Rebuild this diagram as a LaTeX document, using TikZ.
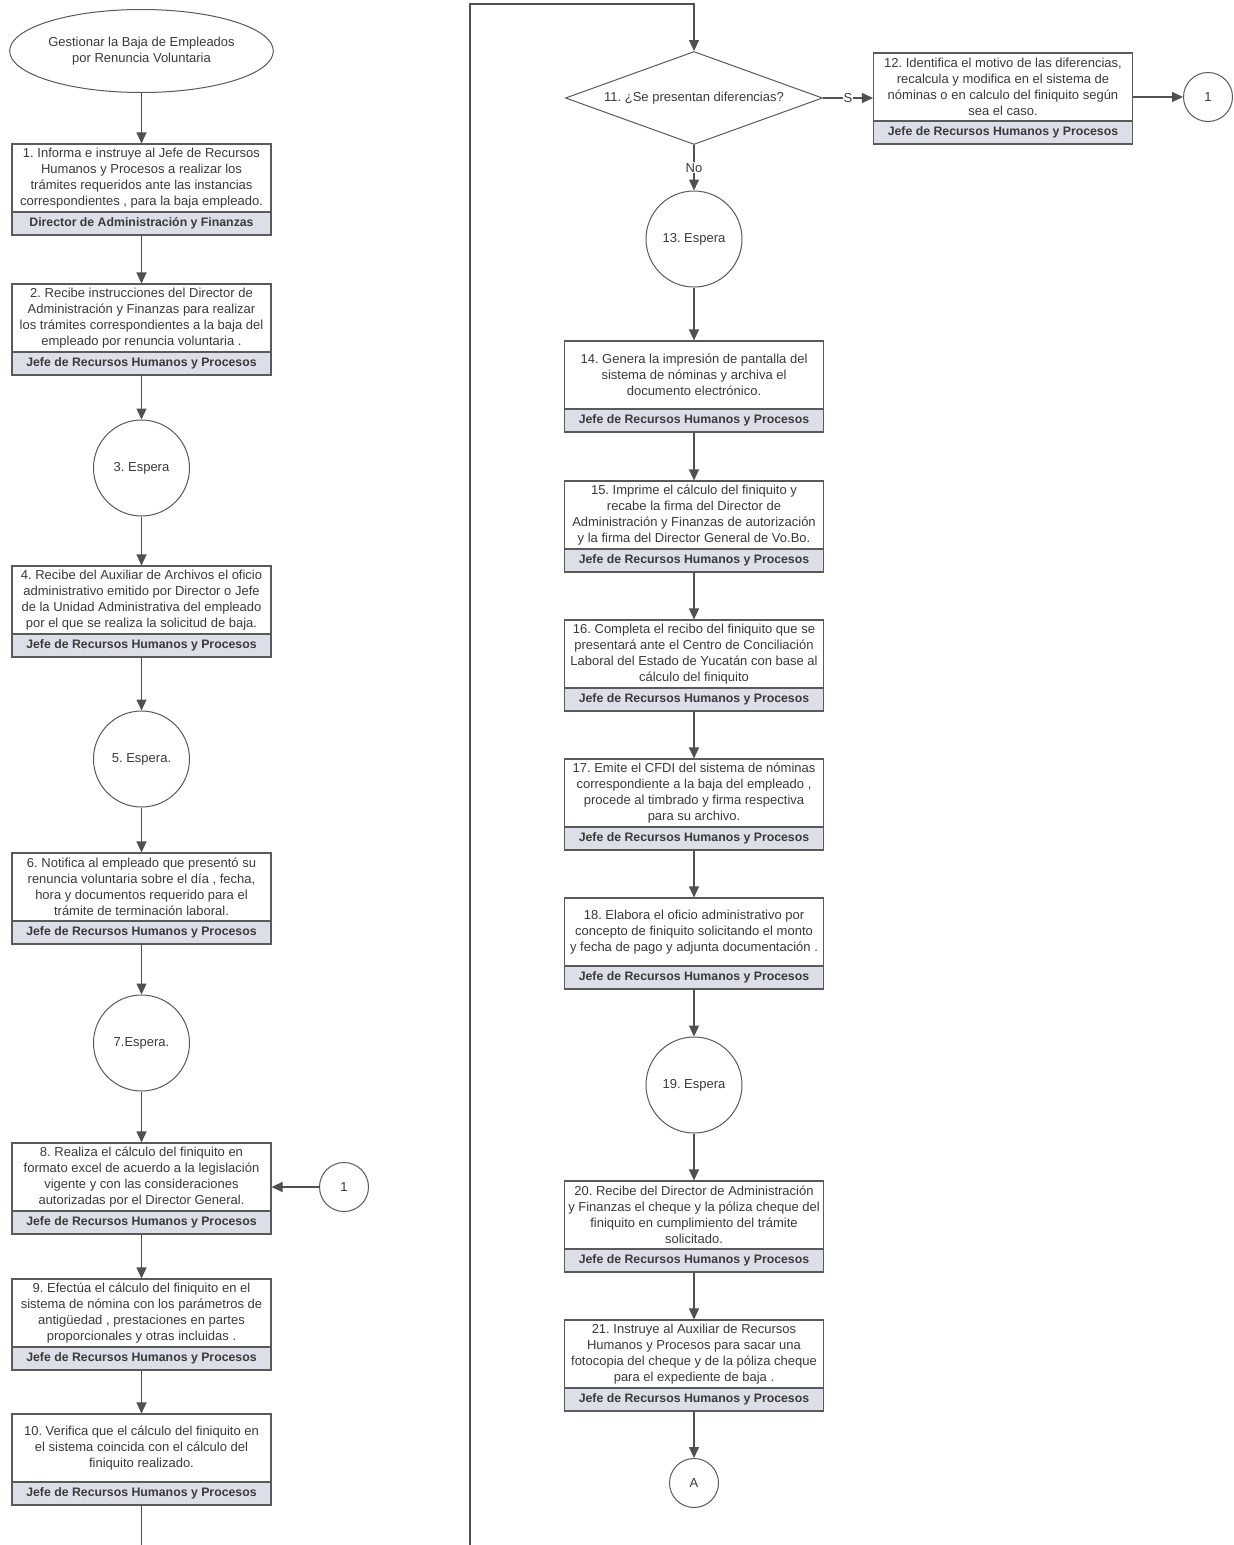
\documentclass[tikz,border=0pt]{standalone}
\usepackage{fontspec}
\setmainfont{Liberation Sans}
\usetikzlibrary{shapes.geometric,arrows.meta}
\definecolor{linec}{HTML}{505050}
\definecolor{boxc}{HTML}{5A5A5A}
\definecolor{txtc}{HTML}{3A3A3A}
\definecolor{rolec}{HTML}{DCDFE8}
\newcommand{\txtfont}{\fontsize{13}{16}\selectfont}
\newcommand{\rolefont}{\fontsize{12.3}{14}\selectfont\bfseries}
\tikzset{
  ln/.style={draw=linec, line width=1.1pt},
  arr/.style={ln, -{Triangle[length=11pt,width=10pt]}},
  txtbox/.style={draw=boxc, line width=1.1pt, fill=white, minimum width=259pt, minimum height=68pt, inner sep=0pt, align=center, font=\txtfont, text=txtc},
  rolebox/.style={draw=boxc, line width=1.1pt, fill=rolec, minimum width=259pt, minimum height=23pt, inner sep=0pt, font=\rolefont, text=txtc},
  waitc/.style={circle, draw=boxc, line width=1pt, minimum size=96pt, inner sep=0pt, font=\txtfont, text=txtc},
  connc/.style={circle, draw=boxc, line width=1pt, minimum size=49pt, inner sep=0pt, font=\txtfont, text=txtc},
  startc/.style={ellipse, draw=boxc, line width=1pt, minimum width=263pt, minimum height=83pt, inner sep=0pt, align=center, font=\txtfont, text=txtc},
  decis/.style={diamond, aspect=2.76, draw=boxc, line width=1pt, minimum width=257pt, minimum height=93pt, inner sep=0pt, font=\txtfont, text=txtc},
  lbl/.style={fill=white, inner sep=1pt, font=\txtfont, text=txtc}
}
\begin{document}
\frenchspacing
\begin{tikzpicture}[x=1pt,y=-1pt]
\useasboundingbox (0,0) rectangle (1234,1545);
\fill[white] (0,0) rectangle (1234,1545);

% left column
\node[startc] (s) at (141.5,51) {Gestionar la Baja de Empleados\\por Renuncia Voluntaria};

\node[txtbox] (b1) at (141.5,178) {1. Informa e instruye al Jefe de Recursos\\Humanos y Procesos a realizar los\\trámites requeridos ante las instancias\\correspondientes , para la baja empleado.};
\node[rolebox] (r1) at (141.5,223.5) {Director de Administración y Finanzas};

\node[txtbox] (b2) at (141.5,318) {2. Recibe instrucciones del Director de\\Administración y Finanzas para realizar\\los trámites correspondientes a la baja del\\empleado por renuncia voluntaria .};
\node[rolebox] (r2) at (141.5,363.5) {Jefe de Recursos Humanos y Procesos};

\node[waitc] (c3) at (141.5,468) {3. Espera};

\node[txtbox] (b4) at (141.5,600) {4. Recibe del Auxiliar de Archivos el oficio\\administrativo emitido por Director o Jefe\\de la Unidad Administrativa del empleado\\por el que se realiza la solicitud de baja.};
\node[rolebox] (r4) at (141.5,645.5) {Jefe de Recursos Humanos y Procesos};

\node[waitc] (c5) at (141.5,759) {5. Espera.};

\node[txtbox] (b6) at (141.5,887) {6. Notifica al empleado que presentó su\\renuncia voluntaria sobre el día , fecha,\\hora y documentos requerido para el\\trámite de terminación laboral.};
\node[rolebox] (r6) at (141.5,932.5) {Jefe de Recursos Humanos y Procesos};

\node[waitc] (c7) at (141.5,1043) {7.Espera.};

\node[txtbox] (b8) at (141.5,1177) {8. Realiza el cálculo del finiquito en\\formato excel de acuerdo a la legislación\\vigente y con las consideraciones\\autorizadas por el Director General.};
\node[rolebox] (r8) at (141.5,1222.5) {Jefe de Recursos Humanos y Procesos};

\node[connc] (c1l) at (344,1187) {1};

\node[txtbox] (b9) at (141.5,1313) {9. Efectúa el cálculo del finiquito en el\\sistema de nómina con los parámetros de\\antigüedad , prestaciones en partes\\proporcionales y otras incluidas .};
\node[rolebox] (r9) at (141.5,1358.5) {Jefe de Recursos Humanos y Procesos};

\node[txtbox] (b10) at (141.5,1448) {10. Verifica que el cálculo del finiquito en\\el sistema coincida con el cálculo del\\finiquito realizado.};
\node[rolebox] (r10) at (141.5,1493.5) {Jefe de Recursos Humanos y Procesos};

% right column
\node[decis] (d11) at (694,98) {11. ¿Se presentan diferencias?};

\node[txtbox] (b12) at (1003,87) {12. Identifica el motivo de las diferencias,\\recalcula y modifica en el sistema de\\nóminas o en calculo del finiquito según\\sea el caso.};
\node[rolebox] (r12) at (1003,132.5) {Jefe de Recursos Humanos y Procesos};

\node[connc] (c1r) at (1208,97) {1};

\node[waitc] (c13) at (694,239) {13. Espera};

\node[txtbox] (b14) at (694,375) {14. Genera la impresión de pantalla del\\sistema de nóminas y archiva el\\documento electrónico.};
\node[rolebox] (r14) at (694,420.5) {Jefe de Recursos Humanos y Procesos};

\node[txtbox] (b15) at (694,515) {15. Imprime el cálculo del finiquito y\\recabe la firma del Director de\\Administración y Finanzas de autorización\\y la firma del Director General de Vo.Bo.};
\node[rolebox] (r15) at (694,560.5) {Jefe de Recursos Humanos y Procesos};

\node[txtbox] (b16) at (694,654) {16. Completa el recibo del finiquito que se\\presentará ante el Centro de Conciliación\\Laboral del Estado de Yucatán con base al\\cálculo del finiquito};
\node[rolebox] (r16) at (694,699.5) {Jefe de Recursos Humanos y Procesos};

\node[txtbox] (b17) at (694,793) {17. Emite el CFDI del sistema de nóminas\\correspondiente a la baja del empleado ,\\procede al timbrado y firma respectiva\\para su archivo.};
\node[rolebox] (r17) at (694,838.5) {Jefe de Recursos Humanos y Procesos};

\node[txtbox] (b18) at (694,932) {18. Elabora el oficio administrativo por\\concepto de finiquito solicitando el monto\\y fecha de pago y adjunta documentación .};
\node[rolebox] (r18) at (694,977.5) {Jefe de Recursos Humanos y Procesos};

\node[waitc] (c19) at (694,1085) {19. Espera};

\node[txtbox] (b20) at (694,1215) {20. Recibe del Director de Administración\\y Finanzas el cheque y la póliza cheque del\\finiquito en cumplimiento del trámite\\solicitado.};
\node[rolebox] (r20) at (694,1260.5) {Jefe de Recursos Humanos y Procesos};

\node[txtbox] (b21) at (694,1354) {21. Instruye al Auxiliar de Recursos\\Humanos y Procesos para sacar una\\fotocopia del cheque y de la póliza cheque\\para el expediente de baja .};
\node[rolebox] (r21) at (694,1399.5) {Jefe de Recursos Humanos y Procesos};

\node[connc] (cA) at (694,1483) {A};

% loop coordinates
\coordinate (botL) at (141.5,1545);
\coordinate (botM) at (470,1545);
\coordinate (topM) at (470,4);

% connectors left
\draw[arr] (s) -- (b1);
\draw[arr] (r1) -- (b2);
\draw[arr] (r2) -- (c3);
\draw[arr] (c3) -- (b4);
\draw[arr] (r4) -- (c5);
\draw[arr] (c5) -- (b6);
\draw[arr] (r6) -- (c7);
\draw[arr] (c7) -- (b8);
\draw[arr] (c1l.west) -- (b8.east |- c1l.west);
\draw[arr] (r8) -- (b9);
\draw[arr] (r9) -- (b10);
\draw[ln] (r10.south) -- (botL);
\draw[arr] (botM) -- (topM) -| (d11.north);

% connectors right
\draw[arr] (d11.east) -- node[lbl]{S} (b12.west |- d11.east);
\draw[arr] (b12.east |- c1r.west) -- (c1r.west);
\draw[arr] (d11.south) -- node[lbl]{No} (c13.north);
\draw[arr] (c13) -- (b14);
\draw[arr] (r14) -- (b15);
\draw[arr] (r15) -- (b16);
\draw[arr] (r16) -- (b17);
\draw[arr] (r17) -- (b18);
\draw[arr] (r18) -- (c19);
\draw[arr] (c19) -- (b20);
\draw[arr] (r20) -- (b21);
\draw[arr] (r21) -- (cA);
\end{tikzpicture}
\end{document}
